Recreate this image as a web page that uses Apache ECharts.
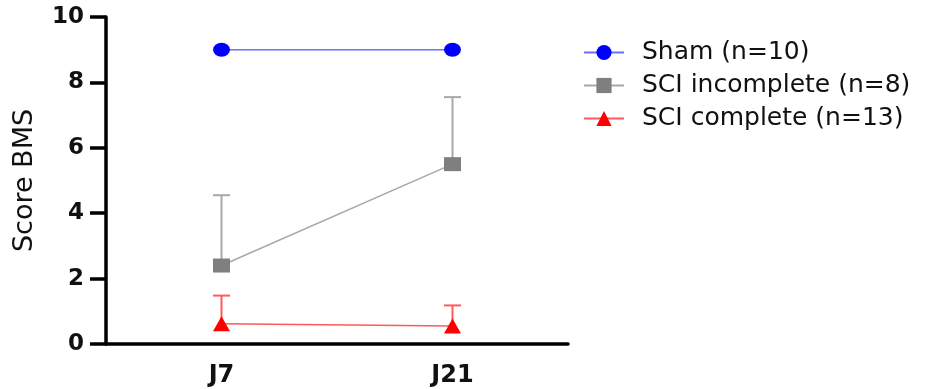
<!DOCTYPE html>
<html>
<head>
<meta charset="utf-8">
<script src="https://cdn.jsdelivr.net/npm/echarts@6/dist/echarts.min.js"></script>
<style>
html,body{margin:0;padding:0;background:#fff;}
#chart{width:945px;height:389px;}
</style>
</head>
<body>
<div id="chart"></div>
<script>
// ---- data ----
var categories = ['J7', 'J21'];
var yTicks = [0, 2, 4, 6, 8, 10];
var shamName = 'Sham (n=10)';
var incompleteName = 'SCI incomplete (n=8)';
var completeName = 'SCI complete (n=13)';
var shamMean = [9, 9];
var incompleteMean = [2.4, 5.5];
var incompleteUpper = [4.55, 7.55];
var completeMean = [0.62, 0.55];
var completeUpper = [1.48, 1.18];

function errData(mean, upper) {
  return mean.map(function (m, i) { return [i, m, upper[i]]; });
}

function errRender(color) {
  return function (params, api) {
    var x = api.value(0);
    var p0 = api.coord([x, api.value(1)]);
    var p1 = api.coord([x, api.value(2)]);
    var w = 8.5;
    return {
      type: 'group',
      children: [
        { type: 'line', shape: { x1: p0[0], y1: p0[1], x2: p1[0], y2: p1[1] }, style: { stroke: color, lineWidth: 2 } },
        { type: 'line', shape: { x1: p1[0] - w, y1: p1[1], x2: p1[0] + w, y2: p1[1] }, style: { stroke: color, lineWidth: 2 } }
      ]
    };
  };
}

var font = 'DejaVu Sans, Liberation Sans, Arial, sans-serif';
var chart = echarts.init(document.getElementById('chart'));
chart.setOption({
  animation: false,
  backgroundColor: '#fff',
  grid: { left: 106, right: 377, top: 17, bottom: 45 },
  legend: {
    orient: 'vertical',
    left: 578,
    top: 35,
    itemWidth: 40,
    itemHeight: 19,
    itemGap: 8,
    selectedMode: false,
    data: [shamName, incompleteName, completeName],
    textStyle: { fontFamily: font, fontSize: 25, color: '#111', padding: [0, 0, 0, 13] }
  },
  xAxis: {
    type: 'category',
    data: categories,
    boundaryGap: true,
    axisLine: { lineStyle: { color: '#000', width: 3.5 } },
    axisTick: { alignWithLabel: true, length: 12, lineStyle: { color: '#000', width: 3.5 } },
    axisLabel: { color: '#111', fontFamily: font, fontWeight: 'bold', fontSize: 24, margin: 20 },
    splitLine: { show: false }
  },
  yAxis: {
    type: 'value',
    min: 0,
    max: 10,
    interval: 2,
    name: 'Score BMS',
    nameLocation: 'middle',
    nameGap: 68,
    nameTextStyle: { color: '#111', fontFamily: font, fontSize: 27 },
    axisLine: { show: true, lineStyle: { color: '#000', width: 3.5 } },
    axisTick: { show: true, length: 16, lineStyle: { color: '#000', width: 3.5 } },
    axisLabel: {
      color: '#111', fontFamily: font, fontWeight: 'bold', fontSize: 23, margin: 22,
      formatter: function (v) { return yTicks.indexOf(v) >= 0 ? String(v) : ''; }
    },
    splitLine: { show: false }
  },
  series: [
    {
      name: 'err-incomplete', type: 'custom', z: 1,
      renderItem: errRender('#a8a8a8'),
      encode: { x: 0, y: [1, 2] },
      data: errData(incompleteMean, incompleteUpper)
    },
    {
      name: 'err-complete', type: 'custom', z: 1,
      renderItem: errRender('#ff5a5a'),
      encode: { x: 0, y: [1, 2] },
      data: errData(completeMean, completeUpper)
    },
    {
      name: shamName, type: 'line', z: 3,
      data: shamMean,
      symbol: 'circle', symbolSize: [17, 14],
      lineStyle: { color: '#6f6fff', width: 1.5 },
      itemStyle: { color: '#0000ff' }
    },
    {
      name: incompleteName, type: 'line', z: 3,
      data: incompleteMean,
      symbol: 'rect', symbolSize: [17, 14],
      lineStyle: { color: '#a8a8a8', width: 1.5 },
      itemStyle: { color: '#7f7f7f' }
    },
    {
      name: completeName, type: 'line', z: 3,
      data: completeMean,
      symbol: 'triangle', symbolSize: [17, 15],
      lineStyle: { color: '#ff5a5a', width: 1.5 },
      itemStyle: { color: '#ff0000' }
    }
  ]
});
</script>
</body>
</html>
